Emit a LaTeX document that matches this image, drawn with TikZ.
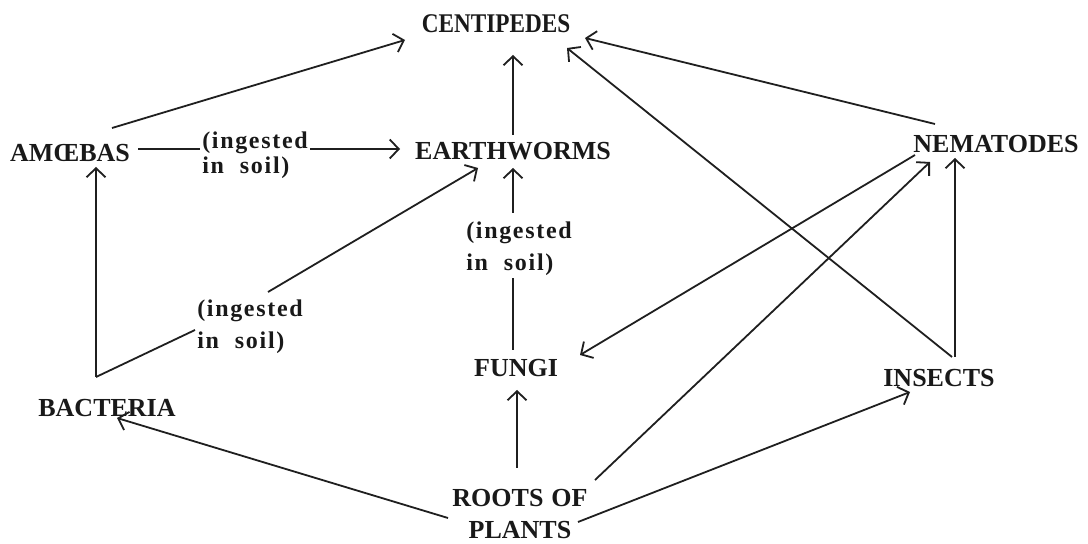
\documentclass[tikz,border=0pt]{standalone}
\usepackage{fontspec}
\setmainfont{Liberation Serif}
\newfontfamily\labfont[LetterSpace=7]{Liberation Serif}
\usetikzlibrary{arrows.meta,calc}
\begin{document}
\begin{tikzpicture}[x=1pt,y=1pt,
  lbl/.style={font=\fontsize{26}{32}\selectfont\bfseries, inner sep=0pt, text=black!90, align=center},
  ing/.style={font=\labfont\fontsize{24}{#1}\selectfont\bfseries, align=left, inner sep=0pt, text=black!90},
  conn/.style={draw=black!88, line width=1.8pt},
  arr/.style={conn, -{Straight Barb[length=9pt,width=19pt]}}]
\fill[white] (0,0) rectangle (1088,544);
\useasboundingbox (0,0) rectangle (1088,544);

\node[lbl] (cen) at (496,520) {\fontsize{27}{32}\selectfont\scalebox{0.86}[1]{CENTIPEDES}};
\node[lbl] (ame) at (70,391) {AMŒBAS};
\node[lbl] (ew) at (513,393) {EARTHWORMS};
\node[lbl] (nem) at (996,400) {NEMATODES};
\node[lbl] (ins) at (939,166) {INSECTS};
\node[lbl] (fun) at (516,176) {FUNGI};
\node[lbl] (bac) at (107,136) {BACTERIA};
\node[lbl] (roots) at (520,30) {ROOTS\hspace{8pt}OF\\PLANTS};
\node[ing=25] (l1) at (255,389) {(ingested\\in\hspace{16pt}soil)};
\node[ing=32] (l2) at (519,295) {(ingested\\in\hspace{16pt}soil)};
\node[ing=32] (l3) at (250,217) {(ingested\\in\hspace{16pt}soil)};

\draw[arr] ($(ame)+(42,25)$) -- ($(cen)+(-91,-16)$);
\draw[conn] ($(ame)+(68,4)$) -- ($(l1)+(-55,6)$);
\draw[arr] ($(l1)+(55,6)$) -- ($(ew)+(-113,2)$);
\draw[arr] ($(ew)+(0,16)$) -- ($(cen)+(17,-31)$);
\draw[arr] ($(bac)+(-11,31)$) -- ($(ame)+(26,-14)$);
\draw[conn] ($(bac)+(-11,31)$) -- ($(l3)+(-55,-3)$);
\draw[arr] ($(l3)+(18,35)$) -- ($(ew)+(-35,-17)$);
\draw[conn] ($(fun)+(-3,18)$) -- ($(l2)+(-6,-29)$);
\draw[arr] ($(l2)+(-6,36)$) -- ($(ew)+(0,-17)$);
\draw[arr] ($(roots)+(-3,46)$) -- ($(fun)+(1,-22)$);
\draw[arr] ($(roots)+(-72,-4)$) -- ($(bac)+(10,-10)$);
\draw[arr] ($(roots)+(58,-8)$) -- ($(ins)+(-29,-14)$);
\draw[arr] ($(roots)+(75,34)$) -- ($(nem)+(-66,-18)$);
\draw[arr] ($(ins)+(16,21)$) -- ($(nem)+(-41,-14)$);
\draw[arr] ($(ins)+(13,21)$) -- ($(cen)+(71,-24)$);
\draw[arr] ($(nem)+(-61,20)$) -- ($(cen)+(89,-14)$);
\draw[arr] ($(nem)+(-81,-11)$) -- ($(fun)+(64,13)$);
\end{tikzpicture}
\end{document}
